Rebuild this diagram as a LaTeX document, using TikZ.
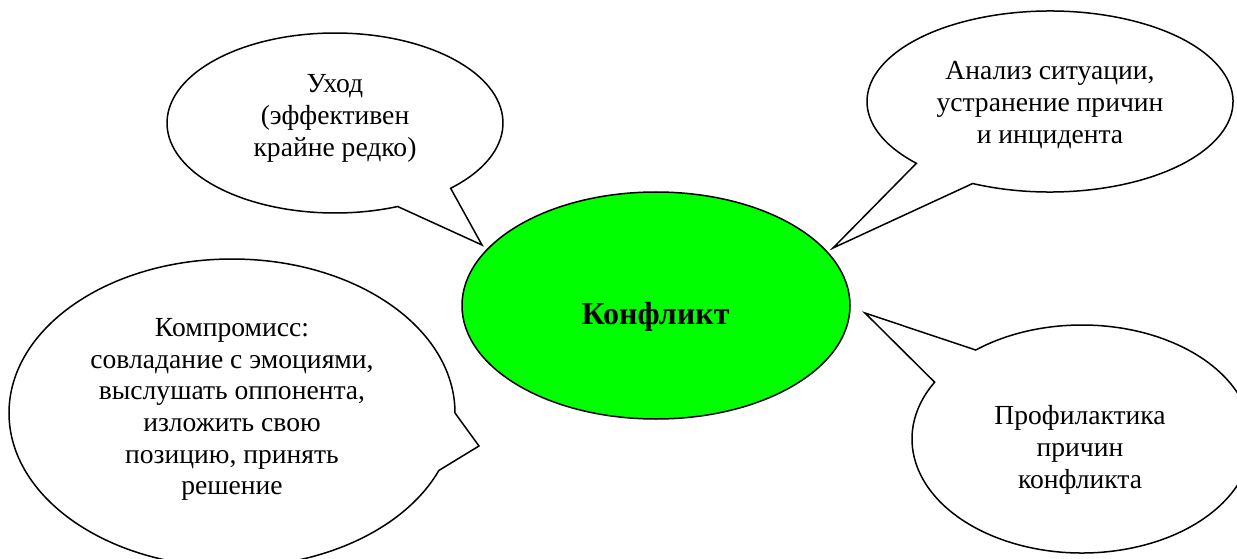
\documentclass[tikz,border=0pt]{standalone}
\usepackage{fontspec}
\setmainfont{Liberation Serif}
\usetikzlibrary{shapes.geometric}
\definecolor{coregreen}{RGB}{0,255,0}
\begin{document}
\begin{tikzpicture}[x=0.5pt,y=0.5pt,
  bubble/.style={draw=black, line width=0.75pt, fill=white, line join=miter},
  bubbletext/.style={align=center, inner sep=0pt, font=\fontsize{13.8}{15.85}\selectfont},
  core/.style={ellipse, draw=black, line width=0.75pt, fill=coregreen, minimum width=194pt, minimum height=113.5pt, inner sep=0pt}]
\useasboundingbox (0,0) rectangle (1237,558);

% central node
\node[core] (conflict) at (656,252.5) {};
\node[bubbletext, font=\bfseries\fontsize{16}{18}\selectfont, anchor=base] (conflictlabel) at (655.5,234) {Конфликт};

% tail tips
\coordinate (tipA) at (482,313);
\coordinate (tipB) at (833,310);
\coordinate (tipC) at (479,112);
\coordinate (tipD) at (865,245);

% bubble: Уход
\draw[bubble] (335,435) ++(-46.5:168 and 90) arc[start angle=-46.5, end angle=291.9, x radius=168, y radius=90] -- (tipA) -- cycle;
% bubble: Анализ
\draw[bubble] (1050,456.5) ++(245:183 and 90.5) arc[start angle=245, end angle=583.1, x radius=183, y radius=90.5] -- (tipB) -- cycle;
% bubble: Компромисс
\draw[bubble] (232,145) ++(0:223 and 154) arc[start angle=0, end angle=338.1, x radius=223, y radius=154] -- (tipC) -- cycle;
% bubble: Профилактика
\draw[bubble] (1082,119) ++(150.1:170 and 114) arc[start angle=150.1, end angle=488.7, x radius=170, y radius=114] -- (tipD) -- cycle;

% texts
\node[bubbletext] (withdraw) at (335,439.5) {Уход\\(эффективен\\крайне редко)};
\node[bubbletext] (analysis) at (1050,453) {Анализ ситуации,\\устранение причин\\и инцидента};
\node[bubbletext] (compromise) at (232,148.5) {Компромисс:\\совладание с эмоциями,\\выслушать оппонента,\\изложить свою\\позицию, принять\\решение};
\node[bubbletext] (prevention) at (1080,108) {Профилактика\\причин\\конфликта};
\end{tikzpicture}
\end{document}
